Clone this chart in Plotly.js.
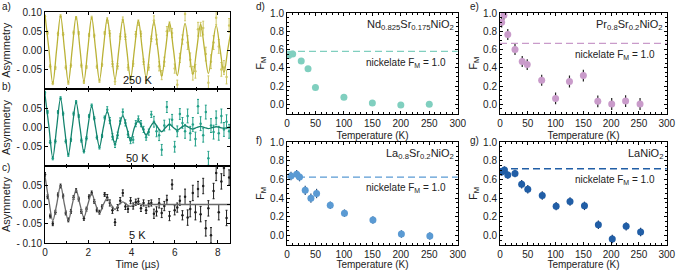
<!DOCTYPE html>
<html><head><meta charset="utf-8">
<script src="https://cdn.plot.ly/plotly-3.0.1.min.js"></script>
<style>body{margin:0;background:#fff}#chart{width:677px;height:270px}</style>
</head><body><div id="chart"></div>
<script>
// ---------- muSR time spectra (panels a-c) ----------
const timeUs = [0,0.12,0.24,0.36,0.48,0.6,0.72,0.84,0.96,1.08,1.2,1.32,1.44,1.56,1.68,1.8,1.92,2.04,2.16,2.28,2.4,2.52,2.64,2.76,2.88,3.0,3.12,3.24,3.36,3.48,3.6,3.72,3.84,3.96,4.08,4.2,4.32,4.44,4.56,4.68,4.8,4.92,5.04,5.16,5.28,5.4,5.52,5.64,5.76,5.88,6.0,6.12,6.24,6.36,6.48,6.6,6.72,6.84,6.96,7.08,7.2,7.32,7.44,7.56,7.68,7.8,7.92,8.04,8.16,8.28,8.4,8.52];
const asym250K = [0.088,0.046,-0.042,-0.086,-0.046,0.043, 0.089,0.042,-0.045,-0.085,-0.040,0.046, 0.084,0.045,-0.040,-0.083,-0.044,0.040, 0.085,0.038,-0.043,-0.080,-0.038,0.045, 0.078,0.044,-0.036,-0.082,-0.042,0.036, 0.080,0.035,-0.045,-0.074,-0.035,0.042, 0.072,0.043,-0.030,-0.079,-0.045,0.030, 0.078,0.028,-0.042,-0.065,-0.030,0.050, 0.062,0.045,-0.048,-0.090,-0.020,0.028, 0.095,0.020,-0.025,-0.060,-0.055,0.055, 0.055,0.058,-0.010,-0.085,-0.030,0.020, 0.085,0.010,-0.050,-0.045,-0.070,0.065];
const err250K = [0.004,0.004,0.004,0.004,0.004,0.004,0.004,0.004,0.004,0.004,0.004,0.004,0.004,0.004,0.004,0.004,0.004,0.004,0.004,0.004,0.004,0.004,0.004,0.004, 0.007,0.007,0.007,0.007,0.007,0.007,0.007,0.007,0.007,0.007,0.007,0.007,0.007,0.007,0.007,0.007,0.007,0.007, 0.012,0.012,0.012,0.012,0.012,0.012,0.012,0.012,0.012,0.012,0.012,0.012, 0.018,0.018,0.018,0.018,0.018,0.018,0.018,0.018,0.018,0.018,0.018,0.018,0.018,0.018,0.018,0.018,0.018,0.018];
const asym50K = [0.090,0.040,-0.038,-0.080,-0.036,0.040, 0.076,0.036,-0.036,-0.071,-0.032,0.036, 0.066,0.030,-0.034,-0.062,-0.028,0.030, 0.057,0.024,-0.026,-0.052,-0.022,0.026, 0.046,0.018,-0.024,-0.044,-0.020,0.017, 0.040,0.012,-0.018,-0.034,-0.032,0.010, 0.022,0.010,-0.005,-0.025,-0.012,0.034, 0.015,-0.010,-0.020,-0.058,0.005,0.053, 0.008,0.020,-0.050,-0.010,0.035,0.012, -0.010,0.030,-0.015,0.008,-0.030,0.055, 0.010,-0.020,0.040,-0.080,0.005,-0.012, 0.025,-0.015,0.030,-0.005,0.015,-0.010];
const err50K = [0.004,0.004,0.004,0.004,0.004,0.004,0.004,0.004,0.004,0.004,0.004,0.004,0.004,0.004,0.004,0.004,0.004,0.004,0.004,0.004,0.004,0.004,0.004,0.004, 0.008,0.008,0.008,0.008,0.008,0.008,0.008,0.008,0.008,0.008,0.008,0.008,0.008,0.008,0.008,0.008,0.008,0.008, 0.014,0.014,0.014,0.014,0.014,0.014,0.014,0.014,0.014,0.014,0.014,0.014, 0.018,0.018,0.018,0.018,0.018,0.018,0.018,0.018,0.018,0.018,0.018,0.018,0.018,0.018,0.018,0.018,0.018,0.018];
const asym5K = [0.078,0.020,-0.030,-0.050,-0.020,0.025, 0.048,0.022,-0.022,-0.040,-0.018,0.018, 0.036,0.014,-0.018,-0.036,-0.012,0.020, 0.030,0.008,-0.014,-0.020,-0.006,0.026, 0.018,0.004,-0.015,-0.046,-0.008,0.010, 0.030,-0.005,-0.012,0.010,-0.004,0.006, 0.008,-0.010,0.004,-0.015,0.002,0.004, -0.024,-0.018,0.003,-0.022,-0.004,0.012, -0.030,0.052,-0.015,-0.008,0.010,-0.028, 0.020,-0.034,-0.012,0.030,-0.020,0.040, -0.025,0.048,-0.062,-0.010,-0.080,0.035, 0.082,-0.020,0.060,0.095,-0.035,0.070];
const err5K = [0.005,0.005,0.005,0.005,0.005,0.005,0.005,0.005,0.005,0.005,0.005,0.005,0.005,0.005,0.005,0.005,0.005,0.005,0.005,0.005,0.005,0.005,0.005,0.005, 0.008,0.008,0.008,0.008,0.008,0.008,0.008,0.008,0.008,0.008,0.008,0.008,0.008,0.008,0.008,0.008,0.008,0.008, 0.012,0.012,0.012,0.012,0.012,0.012,0.012,0.012,0.012,0.012,0.012,0.012, 0.02,0.02,0.02,0.02,0.02,0.02,0.02,0.02,0.02,0.02,0.02,0.02,0.02,0.02,0.02,0.02,0.02,0.02];
// fit curves (read at quarter periods)
const fitTime = [0,0.18,0.36,0.54,0.72,0.9,1.08,1.26,1.44,1.62,1.8,1.98,2.16,2.34,2.52,2.7,2.88,3.06,3.24,3.42,3.6,3.78,3.96,4.14,4.32,4.5,4.68,4.86,5.04,5.22,5.4,5.58,5.76,5.94,6.12,6.3,6.48,6.66,6.84,7.02,7.2,7.38,7.56,7.74,7.92,8.1,8.28,8.46,8.64];
const fit250K = [0.092,0.003,-0.086,0.003,0.090,0.003,-0.083,0.003,0.088,0.003,-0.081,0.003,0.085,0.003,-0.078,0.003,0.083,0.003,-0.076,0.003,0.080,0.003,-0.073,0.003,0.078,0.003,-0.071,0.003,0.075,0.003,-0.068,0.003,0.073,0.003,-0.066,0.003,0.070,0.003,-0.063,0.003,0.068,0.003,-0.061,0.003,0.065,0.003,-0.058,0.003,0.063];
const fit50K = [0.085,0.003,-0.078,0,0.075,0,-0.070,0,0.066,0,-0.063,0,0.055,0,-0.050,0,0.042,0,-0.044,0,0.030,0,-0.034,0,0.018,0,-0.020,0,0.013,0,-0.011,0,0.008,0,-0.007,0,0.005,0,-0.004,0,0.003,0,-0.003,0,0.002,0,-0.002,0,0.001];
const fit5K = [0.074,0.010,-0.042,0,0.049,0,-0.042,0,0.037,0,-0.033,0,0.028,0,-0.022,0,0.016,0,-0.013,0,0.007,0,-0.005,0,0.003,0,-0.002,0,0,0,0,0,0,0,0,0,0,0,0,0,0,0,0,0,0,0,0,0,0];

// ---------- magnetic fraction vs temperature (panels d-g) ----------
const tempNd = [3,10,25,37,50,100,150,200,250];
const fmNd = [0.535,0.55,0.475,0.39,0.185,0.077,0.015,-0.007,0.0];
const errNd = [0.01,0.01,0.01,0.01,0.01,0.01,0.01,0.01,0.01];
const tempPr = [3,7,14,27,40,49,75,100,125,150,176,201,226,252];
const fmPr = [0.90,0.975,0.764,0.60,0.47,0.435,0.264,0.065,0.25,0.315,0.033,0.004,0.036,0.004];
const errPr = [0.06,0.05,0.06,0.06,0.06,0.06,0.06,0.065,0.065,0.065,0.065,0.065,0.065,0.065];
const tempLaSr = [7,17,22,32,42,52,76,101,151,201,251];
const fmLaSr = [0.636,0.655,0.625,0.484,0.40,0.45,0.325,0.24,0.166,0.018,-0.004];
const errLaSr = [0.045,0.045,0.045,0.05,0.05,0.05,0.04,0.04,0.04,0.04,0.04];
const tempLa = [3,8,14,27,39,50,76,101,126,152,177,202,227,253];
const fmLa = [0.68,0.70,0.647,0.664,0.548,0.495,0.428,0.315,0.364,0.318,0.117,-0.035,0.099,0.039];
const errLa = [0.04,0.04,0.04,0.04,0.045,0.045,0.045,0.045,0.045,0.045,0.045,0.045,0.045,0.045];
const nickelateLevel = [0.58,0.667,0.625,0.714];
const tempSpan = [0,300];
const compounds = ['Nd<sub>0.825</sub>Sr<sub>0.175</sub>NiO<sub>2</sub>','Pr<sub>0.8</sub>Sr<sub>0.2</sub>NiO<sub>2</sub>','La<sub>0.8</sub>Sr<sub>0.2</sub>NiO<sub>2</sub>','LaNiO<sub>2</sub>'];
const tempLabels = ['250 K','50 K','5 K'];

const FONT = 'Liberation Sans, Arial, sans-serif';
const traces = [];
function leftPanel(n, y, e, fy, ptCol, lnCol){
  const xa = n===1?'x':'x'+n, ya = n===1?'y':'y'+n;
  traces.push({x:timeUs, y:y, xaxis:xa, yaxis:ya, mode:'markers', type:'scatter',
    marker:{size:2.5, color:ptCol},
    error_y:{type:'data', array:e, color:ptCol, thickness:1, width:1}, cliponaxis:true});
  traces.push({x:fitTime, y:fy, xaxis:xa, yaxis:ya, mode:'lines', type:'scatter',
    line:{shape:'spline', smoothing:1, width:1.3, color:lnCol}});
}
leftPanel(1, asym250K, err250K, fit250K, '#cfc866', '#bab236');
leftPanel(2, asym50K, err50K, fit50K, '#22a088', '#12836d');
leftPanel(3, asym5K, err5K, fit5K, '#1e1e1e', '#6a6a6a');

function rightPanel(n, t, f, e, col, errCol, lvl){
  traces.push({x:tempSpan, y:[lvl,lvl], xaxis:'x'+n, yaxis:'y'+n, mode:'lines', type:'scatter',
    line:{color:col, width:1.4, dash:'7px,4px'}});
  traces.push({x:t, y:f, xaxis:'x'+n, yaxis:'y'+n, mode:'markers', type:'scatter',
    marker:{size:7, color:col},
    error_y:{type:'data', array:e, color:errCol, thickness:1.2, width:0}});
}
rightPanel(4, tempNd, fmNd, errNd, '#80cfbf', '#80cfbf', nickelateLevel[0]);
rightPanel(5, tempPr, fmPr, errPr, '#c99bca', '#222', nickelateLevel[1]);
rightPanel(6, tempLaSr, fmLaSr, errLaSr, '#5a9ad3', '#2a4f7a', nickelateLevel[2]);
rightPanel(7, tempLa, fmLa, errLa, '#215ea6', '#1a2f55', nickelateLevel[3]);

const base = {showline:true, linecolor:'#000', linewidth:1, mirror:'allticks', ticks:'inside', ticklen:3,
  tickcolor:'#000', showgrid:false, zeroline:false, ticklabeloverflow:'allow',
  tickfont:{family:FONT, size:10, color:'#222'}};
const H = 270, W = 677;
const py = (a,b)=>[1-b/H, 1-a/H];
const px = (a,b)=>[a/W, b/W];
const layout = {width:W, height:H, margin:{l:0,r:0,t:0,b:0}, showlegend:false,
  paper_bgcolor:'#fff', plot_bgcolor:'#fff', font:{family:FONT, color:'#222'}, annotations:[]};
const leftX = px(45,230);
const leftY = [py(12,88.5), py(89,166), py(166,243)];
const yTicks = [
  {vals:[-0.05,0,0.05,0.1], text:['- 0.05','0.00','0.05','0.10']},
  {vals:[-0.05,0,0.05], text:['- 0.05','0.00','0.05']},
  {vals:[-0.1,-0.05,0,0.05], text:['- 0.10','- 0.05','0.00','0.05']}];
for(let i=0;i<3;i++){
  const n=i+1, xk = n===1?'xaxis':'xaxis'+n, yk = n===1?'yaxis':'yaxis'+n;
  const yid = n===1?'y':'y'+n, xid = n===1?'x':'x'+n;
  layout[xk] = Object.assign({}, base, {domain:leftX, range:[0,8.56], anchor:yid, dtick:2, tick0:0,
    showticklabels:n===3, minor:{ticks:'inside', ticklen:2, dtick:1, tickcolor:'#000'}});
  layout[yk] = Object.assign({}, base, {domain:leftY[i], range:[-0.1,0.1], anchor:xid,
    tickvals:yTicks[i].vals, ticktext:yTicks[i].text,
    title:{text:'Asymmetry', font:{size:11, family:FONT, color:'#222'}, standoff:3}});
  layout.annotations.push({xref:xid, yref:yid+' domain', x:4.3, y:0.0, yanchor:'bottom', xanchor:'center',
    text:tempLabels[i], showarrow:false, font:{size:11, family:FONT, color:'#111'}});
}
layout.xaxis3.title = {text:'Time (µs)', font:{size:10.5, family:FONT, color:'#222'}, standoff:4};

const rx = [px(287,458), px(500,667), px(287,458), px(500,667)];
const ry = [py(13,113.5), py(13,113.5), py(142,245), py(142,245)];
for(let i=0;i<4;i++){
  const n=i+4;
  layout['xaxis'+n] = Object.assign({}, base, {domain:rx[i], range:[0,300.5], anchor:'y'+n, dtick:50,
    minor:{ticks:'inside', ticklen:2, dtick:10, tickcolor:'#000'},
    title:{text:'Temperature (K)', font:{size:10, family:FONT, color:'#222'}, standoff:4}});
  layout['yaxis'+n] = Object.assign({}, base, {domain:ry[i], range:[-0.1,1.0], anchor:'x'+n, dtick:0.2,
    tick0:0, tickformat:'.1f', minor:{ticks:'inside', ticklen:2, dtick:0.05, tickcolor:'#000'},
    title:{text:'F<sub>M</sub>', font:{size:11, family:FONT, color:'#222'}, standoff:3}});
  layout.annotations.push({xref:'x'+n+' domain', yref:'y'+n+' domain', x:0.99, y:0.97, xanchor:'right', yanchor:'top',
    text:compounds[i], showarrow:false, font:{size:11, family:FONT, color:'#222'}});
  layout.annotations.push({xref:'x'+n+' domain', yref:'y'+n, x:0.94, y:nickelateLevel[i]-0.035, xanchor:'right', yanchor:'top',
    text:'nickelate F<sub>M</sub> = 1.0', showarrow:false, font:{size:10, family:FONT, color:'#222'}});
}
const letters = [['a)',0,6],['b)',0,87],['c)',0,167],['d)',254,6],['e)',468,6],['f)',254,140],['g)',468,140]];
letters.forEach(l=>layout.annotations.push({xref:'paper', yref:'paper', x:l[1]/W, y:1-l[2]/H, xanchor:'left', yanchor:'middle',
  text:l[0], showarrow:false, font:{size:10, family:FONT, color:'#222'}}));

Plotly.newPlot('chart', traces, layout, {staticPlot:true, displayModeBar:false});
</script></body></html>
